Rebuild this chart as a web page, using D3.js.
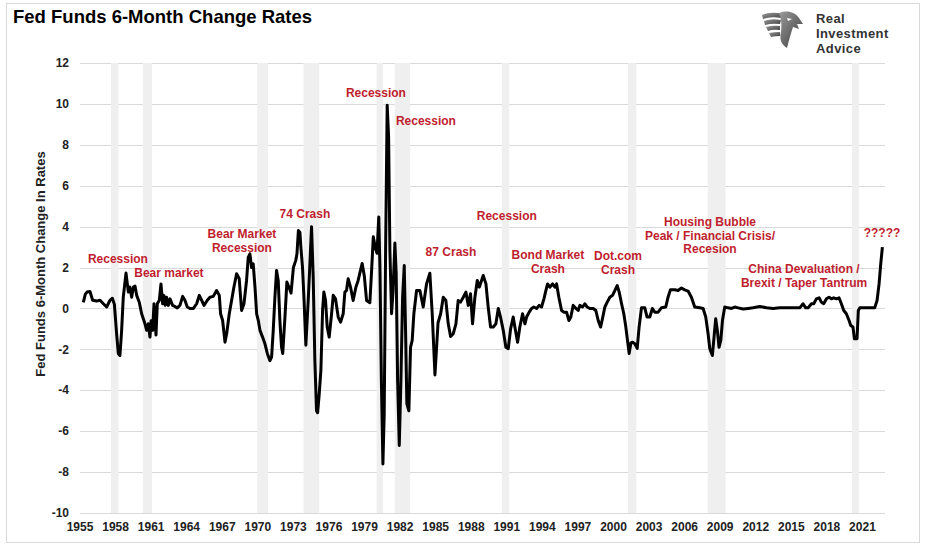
<!DOCTYPE html>
<html>
<head>
<meta charset="utf-8">
<script src="https://cdn.jsdelivr.net/npm/d3@7"></script>
<style>
    body { margin: 0; background: #fff; }
    #data-viz { width: 928px; height: 547px; }
    text { font-family: "Liberation Sans", Arial, sans-serif; }
</style>
</head>
<body>
<div id="data-viz"></div>
<script>
// Decimal year of each reading and the 6-month change in the fed funds rate (pct pts)
const years = [
    1955.28, 1955.45, 1955.6, 1955.84, 1956.07, 1956.4, 1956.69, 1956.97, 1957.25, 1957.53, 1957.73, 1957.9,
    1958.09, 1958.23, 1958.37, 1958.51, 1958.65, 1958.88, 1959.08, 1959.2, 1959.36, 1959.5, 1959.64, 1959.78,
    1960.0, 1960.2, 1960.48, 1960.62, 1960.76, 1960.9, 1961.0, 1961.13, 1961.24, 1961.41, 1961.52, 1961.69,
    1961.83, 1961.97, 1962.08, 1962.19, 1962.3, 1962.45, 1962.59, 1962.81, 1963.0, 1963.2, 1963.43, 1963.66,
    1963.85, 1964.05, 1964.27, 1964.56, 1964.84, 1965.06, 1965.26, 1965.46, 1965.74, 1965.96, 1966.24, 1966.52,
    1966.75, 1966.86, 1967.03, 1967.23, 1967.37, 1967.59, 1967.79, 1967.98, 1968.21, 1968.43, 1968.63, 1968.83,
    1969.05, 1969.19, 1969.33, 1969.47, 1969.61, 1969.76, 1969.9, 1970.04, 1970.18, 1970.4, 1970.6, 1970.8,
    1971.02, 1971.16, 1971.3, 1971.44, 1971.58, 1971.72, 1971.86, 1972.0, 1972.1, 1972.28, 1972.45, 1972.65,
    1972.8, 1973.0, 1973.2, 1973.3, 1973.42, 1973.55, 1973.63, 1973.77, 1973.9, 1974.05, 1974.25, 1974.4,
    1974.53, 1974.67, 1974.81, 1974.95, 1975.04, 1975.18, 1975.32, 1975.46, 1975.57, 1975.71, 1975.85, 1976.02,
    1976.22, 1976.36, 1976.55, 1976.78, 1976.98, 1977.2, 1977.34, 1977.48, 1977.62, 1977.82, 1978.04, 1978.27,
    1978.46, 1978.66, 1978.8, 1978.98, 1979.17, 1979.45, 1979.6, 1979.74, 1979.9, 1980.05, 1980.2, 1980.3,
    1980.42, 1980.55, 1980.66, 1980.78, 1980.91, 1981.03, 1981.14, 1981.28, 1981.4, 1981.56, 1981.67, 1981.79,
    1981.93, 1982.07, 1982.21, 1982.35, 1982.46, 1982.57, 1982.74, 1982.88, 1983.02, 1983.16, 1983.39, 1983.67,
    1983.95, 1984.23, 1984.51, 1984.71, 1984.94, 1985.2, 1985.42, 1985.64, 1985.86, 1986.06, 1986.26, 1986.48,
    1986.71, 1986.9, 1987.1, 1987.33, 1987.55, 1987.75, 1987.94, 1988.11, 1988.31, 1988.51, 1988.68, 1988.87,
    1989.01, 1989.24, 1989.43, 1989.63, 1989.86, 1990.08, 1990.28, 1990.47, 1990.7, 1990.92, 1991.12, 1991.32,
    1991.54, 1991.68, 1991.91, 1992.1, 1992.33, 1992.53, 1992.67, 1992.89, 1993.09, 1993.28, 1993.51, 1993.73,
    1993.93, 1994.13, 1994.3, 1994.44, 1994.63, 1994.86, 1995.06, 1995.2, 1995.39, 1995.62, 1995.81, 1996.04,
    1996.24, 1996.4, 1996.6, 1996.83, 1997.02, 1997.16, 1997.39, 1997.58, 1997.78, 1998.0, 1998.29, 1998.51,
    1998.71, 1998.91, 1999.07, 1999.27, 1999.47, 1999.69, 1999.92, 2000.12, 2000.31, 2000.48, 2000.68, 2000.87,
    2001.04, 2001.18, 2001.32, 2001.47, 2001.6, 2001.8, 2002.0, 2002.16, 2002.36, 2002.64, 2002.83, 2003.06,
    2003.28, 2003.48, 2003.76, 2004.04, 2004.41, 2004.6, 2004.8, 2005.17, 2005.45, 2005.73, 2006.01, 2006.29,
    2006.57, 2006.85, 2007.28, 2007.56, 2007.78, 2007.98, 2008.12, 2008.34, 2008.48, 2008.62, 2008.76, 2008.9,
    2009.05, 2009.19, 2009.38, 2009.66, 2009.95, 2010.23, 2010.51, 2010.93, 2011.35, 2011.77, 2012.33, 2012.9,
    2013.46, 2014.02, 2014.58, 2015.15, 2015.71, 2015.99, 2016.21, 2016.41, 2016.69, 2016.89, 2017.11, 2017.34,
    2017.53, 2017.73, 2017.96, 2018.18, 2018.38, 2018.57, 2018.8, 2019.02, 2019.22, 2019.42, 2019.64, 2019.87,
    2020.01, 2020.2, 2020.32, 2020.54, 2020.65, 2020.77, 2021.19, 2021.61, 2022.03, 2022.23, 2022.4, 2022.54,
    2022.68
]
const changes = [
    0.3, 0.7, 0.8, 0.83, 0.4, 0.36, 0.4, 0.23, 0.07, 0.4, 0.5, 0.2,
    -1.25, -2.2, -2.3, -1.1, 0.55, 1.73, 0.8, 1.05, 0.55, 1.05, 1.1, 0.64,
    0.3, -0.26, -0.75, -1.07, -0.75, -1.4, -0.6, -1.07, 0.23, -1.3, 0.23, 0.4,
    1.2, 0.23, 0.64, 0.15, 0.55, 0.15, 0.47, 0.15, 0.1, 0.03, 0.15, 0.59,
    0.4, 0.07, 0, 0, 0.23, 0.64, 0.4, 0.15, 0.4, 0.55, 0.59, 0.88,
    0.64, -0.26, -0.59, -1.65, -1.24, -0.26, 0.4, 1.04, 1.7, 1.45, -0.1, 0.23,
    1.37, 2.5, 2.67, 2.0, 2.18, 1.04, -0.26, -0.59, -1.07, -1.4, -1.73, -2.2,
    -2.55, -2.38, -1.07, 0.55, 1.86, 1.37, -0.59, -1.9, -2.2, -0.5, 1.29, 1.0,
    0.75, 2.0, 2.35, 2.67, 3.81, 3.73, 3.0, 2.0, 0.39, -1.8, 0.4, 2.3,
    4.0, 1.53, -2.54, -5.0, -5.1, -4.17, -3.0, -0.1, 0.8, 0.4, -0.9, -1.4,
    -0.26, 0.64, 0.47, -0.42, -0.67, -0.26, 0.8, 0.88, 1.45, 1.04, 0.39, 1.04,
    1.37, 1.86, 2.2, 1.6, 0.39, 0.28, 1.9, 3.5, 3.0, 2.7, 4.47, 2.0,
    -3.5, -7.6, -5.15, 3.0, 9.93, 8.4, 2.8, -0.26, 0.8, 3.2, 1.7, -3.5,
    -6.7, -3.5, 0.55, 2.1, -1.07, -4.66, -5.0, -1.9, -1.56, -0.26, 0.88, 0.88,
    0.07, 1.2, 1.72, -0.26, -3.25, -0.7, -0.26, 0.55, 0.39, -0.75, -1.37, -1.24,
    -0.75, 0.39, 0.31, 0.55, 0.8, 0.15, 0.72, -0.75, 0.55, 1.37, 1.04, 1.37,
    1.61, 1.2, 0.07, -0.91, -0.91, -0.75, 0, -0.42, -1.07, -1.9, -1.97, -1.0,
    -0.42, -0.91, -1.65, -0.91, -0.26, -0.75, -0.42, -0.18, 0, 0.07, 0, 0.15,
    0.07, 0.47, 0.88, 1.2, 1.04, 1.2, 1.04, 1.2, 0.55, -0.1, -0.18, -0.18,
    -0.59, -0.42, 0.15, 0, -0.1, 0.15, 0.07, 0.23, 0.07, 0, 0, -0.1,
    -0.59, -0.91, -0.5, 0.07, 0.31, 0.55, 0.64, 0.88, 1.12, 0.8, 0.23, -0.26,
    -0.91, -1.56, -2.2, -1.68, -1.65, -1.73, -1.95, -0.9, 0.03, 0.03, -0.42, -0.42,
    0, -0.18, -0.18, 0.03, 0.07, 0.55, 0.91, 0.91, 0.88, 1.0, 0.91, 0.85,
    0.55, 0.07, 0.03, 0, -0.42, -1.24, -1.97, -2.3, -1.4, -0.5, -1.07, -1.9,
    -1.56, -0.59, 0.07, 0.03, 0, 0.07, 0.03, -0.03, 0, 0.03, 0.1, 0.03,
    0, 0.03, 0.03, 0.03, 0.03, 0.23, 0.03, 0.03, 0.23, 0.23, 0.47, 0.52,
    0.31, 0.23, 0.47, 0.55, 0.47, 0.52, 0.47, 0.52, 0.23, -0.1, -0.26, -0.59,
    -0.83, -0.91, -1.48, -1.48, -0.1, 0.03, 0.03, 0.03, 0.03, 0.39, 1.2, 2.18,
    3.0
]

// Recession shading (start, end in decimal years)
const recessionStarts = [1957.62, 1960.3, 1969.95, 1973.85, 1980.02, 1981.55, 1990.58, 2001.22, 2007.95, 2020.12]
const recessionEnds = [1958.25, 1961.08, 1970.85, 1975.18, 1980.55, 1982.85, 1991.2, 2001.92, 2009.45, 2020.7]

const xTicks = d3.range(1955, 2022, 3)
const yTicks = d3.range(-10, 13, 2)

// Annotation text, anchor year / value of the first line of each note
const noteLines = [
    ["Recession"], ["Bear market"], ["Bear Market", "Recession"], ["74 Crash"], ["Recession"], ["Recession"],
    ["87 Crash"], ["Recession"], ["Bond Market", "Crash"], ["Dot.com", "Crash"],
    ["Housing Bubble", "Peak / Financial Crisis/", "Recesion"], ["China Devaluation /", "Brexit / Taper Tantrum"], ["?????"]
]
const noteYears = [1958.2, 1962.5, 1968.66, 1973.97, 1979.96, 1984.18, 1986.29, 1991.0, 1994.47, 2000.38, 2008.14, 2016.07, 2022.65]
const noteValues = [2.22, 1.54, 3.45, 4.43, 10.34, 8.97, 2.57, 4.33, 2.42, 2.37, 4.03, 1.74, 3.5]

function drawChart() {
    const width = 928
    const height = 547
    const plot = { left: 80, right: 885, top: 63, bottom: 513 }
    const noteColor = "#bf1e2e"

    const svg = d3.select("#data-viz").append("svg")
        .attr("width", width)
        .attr("height", height)

    svg.append("rect")
        .attr("x", 6.5).attr("y", 3.5)
        .attr("width", 913).attr("height", 539)
        .attr("fill", "#fff")
        .attr("stroke", "#d9d9d9")

    const xScale = d3.scaleLinear()
        .domain([1955, 2022.9])
        .range([plot.left, plot.right])

    const yScale = d3.scaleLinear()
        .domain([-10, 12])
        .range([plot.bottom, plot.top])

    // gridlines
    svg.append("g")
        .selectAll("line")
        .data(yTicks)
        .join("line")
            .attr("x1", plot.left)
            .attr("x2", plot.right)
            .attr("y1", d => Math.round(yScale(d)) + 0.5)
            .attr("y2", d => Math.round(yScale(d)) + 0.5)
            .attr("stroke", "#d9d9d9")
            .attr("stroke-width", 1)

    // recession bars sit in front of the gridlines, like excel columns
    svg.append("g")
        .selectAll("rect")
        .data(recessionStarts)
        .join("rect")
            .attr("x", d => xScale(d))
            .attr("width", (d, i) => xScale(recessionEnds[i]) - xScale(d))
            .attr("y", plot.top)
            .attr("height", plot.bottom - plot.top)
            .attr("fill", "#efefef")

    // y axis labels
    svg.append("g")
        .selectAll("text")
        .data(yTicks)
        .join("text")
            .attr("x", 69)
            .attr("y", d => yScale(d))
            .attr("dy", "0.35em")
            .attr("text-anchor", "end")
            .attr("font-size", 12)
            .attr("font-weight", "bold")
            .attr("fill", "#222")
            .text(d => d)

    // x axis labels
    svg.append("g")
        .selectAll("text")
        .data(xTicks)
        .join("text")
            .attr("x", d => xScale(d))
            .attr("y", 531)
            .attr("text-anchor", "middle")
            .attr("font-size", 12)
            .attr("font-weight", "bold")
            .attr("fill", "#222")
            .text(d => d)

    svg.append("text")
        .attr("transform", "translate(45, 264) rotate(-90)")
        .attr("text-anchor", "middle")
        .attr("font-size", 13)
        .attr("font-weight", "bold")
        .attr("fill", "#222")
        .text("Fed Funds 6-Month Change In Rates")

    svg.append("text")
        .attr("x", 13)
        .attr("y", 23)
        .attr("font-size", 18.5)
        .attr("font-weight", "bold")
        .attr("fill", "#000")
        .text("Fed Funds 6-Month Change Rates")

    // the series
    const line = d3.line()
        .x(d => xScale(d))
        .y((d, i) => yScale(changes[i]))

    svg.append("path")
        .attr("d", line(years))
        .attr("fill", "none")
        .attr("stroke", "#000")
        .attr("stroke-width", 3)
        .attr("stroke-linejoin", "round")

    // notes
    const notes = svg.append("g")
        .selectAll("text")
        .data(noteLines)
        .join("text")
            .attr("x", (d, i) => xScale(noteYears[i]))
            .attr("y", (d, i) => yScale(noteValues[i]))
            .attr("text-anchor", "middle")
            .attr("font-size", 12)
            .attr("font-weight", "bold")
            .attr("fill", noteColor)

    notes.selectAll("tspan")
        .data(d => d)
        .join("tspan")
            .attr("x", function () { return d3.select(this.parentNode).attr("x") })
            .attr("dy", (d, i) => i === 0 ? 0 : 13.7)
            .text(d => d)

    // logo
    const logo = svg.append("g").attr("transform", "translate(761, 10)")
    const grad = svg.append("defs").append("linearGradient")
        .attr("id", "eagle-grad")
        .attr("x1", "0%").attr("y1", "0%").attr("x2", "100%").attr("y2", "100%")
    grad.append("stop").attr("offset", "0%").attr("stop-color", "#9a9a9a")
    grad.append("stop").attr("offset", "100%").attr("stop-color", "#3c3c3c")

    const feathers = [
        "M1,5 Q10,1 22,4 L20,8 Q10,6 2,9 Z",
        "M3,11 Q11,8 20,10 L19,14 Q11,13 4,15 Z",
        "M5,17 Q12,15 19,16 L19,20 Q12,19 7,21 Z",
        "M8,23 Q13,22 19,22 L19,26 Q14,26 10,27 Z"
    ]
    logo.selectAll("path.feather")
        .data(feathers)
        .join("path")
            .attr("class", "feather")
            .attr("d", d => d)
            .attr("fill", "url(#eagle-grad)")

    logo.append("path")
        .attr("d", "M18,3 C26,0 34,2 38,8 L42,14 L36,14 L38,19 L32,17 C30,23 28,30 26,38 C21,35 18,30 20,22 C21,14 20,8 18,3 Z")
        .attr("fill", "url(#eagle-grad)")
    logo.append("path")
        .attr("d", "M26,8 L31,9 L27,11 Z")
        .attr("fill", "#fff")

    const logoWords = ["Real", "Investment", "Advice"]
    svg.append("g")
        .selectAll("text")
        .data(logoWords)
        .join("text")
            .attr("x", 816)
            .attr("y", (d, i) => 23 + i * 15)
            .attr("font-size", 13)
            .attr("letter-spacing", 0.4)
            .attr("font-weight", "bold")
            .attr("fill", "#333")
            .text(d => d)
}

drawChart()
</script>
</body>
</html>
